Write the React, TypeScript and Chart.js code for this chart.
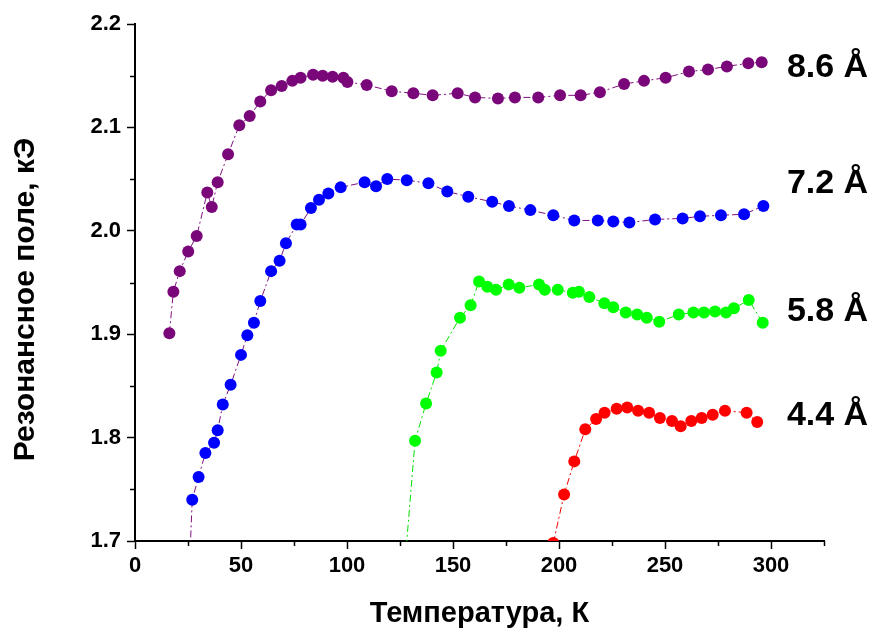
import React, { useEffect, useRef } from 'react';
import { Chart, registerables } from 'chart.js';

Chart.register(...registerables);

// 8.6 Å
const temp86 = [16.2, 18.1, 21.1, 25.1, 29.1, 34.1, 36.2, 39.0, 43.9, 49.2, 54.1, 59.1, 64.2, 69.2, 74.2, 78.1, 84.0, 88.5, 93.2, 98.3, 100.2, 109.3, 121.1, 131.3, 140.4, 152.2, 160.4, 171.2, 179.2, 190.2, 200.5, 210.2, 219.3, 230.7, 240.1, 250.3, 261.3, 270.3, 279.2, 289.3, 295.6];
const field86 = [1.901, 1.941, 1.961, 1.980, 1.995, 2.037, 2.023, 2.047, 2.074, 2.102, 2.111, 2.125, 2.136, 2.140, 2.145, 2.148, 2.151, 2.150, 2.149, 2.148, 2.144, 2.141, 2.135, 2.133, 2.131, 2.133, 2.129, 2.128, 2.129, 2.129, 2.131, 2.131, 2.134, 2.142, 2.145, 2.148, 2.154, 2.156, 2.159, 2.162, 2.163];

// 7.2 Å
const temp72 = [25.4, 27.0, 30.0, 33.2, 37.3, 39.0, 41.4, 45.1, 50.0, 53.0, 56.1, 59.1, 64.2, 68.2, 71.2, 76.3, 78.1, 83.0, 86.8, 91.2, 97.0, 108.3, 113.7, 119.0, 128.2, 138.4, 147.3, 157.2, 168.5, 176.4, 186.5, 197.3, 207.2, 218.3, 225.6, 233.2, 245.3, 258.3, 266.5, 276.4, 287.3, 296.4];
const field72 = [1.66, 1.740, 1.762, 1.785, 1.795, 1.807, 1.832, 1.851, 1.880, 1.899, 1.911, 1.932, 1.961, 1.971, 1.988, 2.006, 2.006, 2.022, 2.030, 2.036, 2.042, 2.047, 2.043, 2.050, 2.049, 2.046, 2.038, 2.033, 2.028, 2.024, 2.020, 2.015, 2.010, 2.010, 2.009, 2.008, 2.011, 2.012, 2.014, 2.015, 2.016, 2.024];

// 5.8 Å
const temp58 = [127.4, 132.1, 137.3, 142.3, 144.2, 153.3, 158.3, 162.3, 166.2, 170.3, 176.3, 181.3, 190.6, 193.3, 199.4, 206.5, 209.4, 214.3, 221.4, 225.6, 231.5, 236.9, 241.4, 247.3, 256.5, 263.4, 268.4, 273.6, 278.8, 282.5, 289.5, 296.1];
const field58 = [1.68, 1.797, 1.833, 1.863, 1.884, 1.916, 1.928, 1.951, 1.946, 1.943, 1.948, 1.945, 1.948, 1.943, 1.943, 1.940, 1.941, 1.936, 1.930, 1.926, 1.921, 1.919, 1.916, 1.912, 1.919, 1.921, 1.921, 1.922, 1.921, 1.925, 1.933, 1.911];

// 4.4 Å
const temp44 = [197.3, 202.4, 207.2, 212.4, 217.5, 221.5, 227.2, 232.2, 237.3, 242.5, 247.6, 253.3, 257.4, 262.4, 267.3, 272.5, 278.3, 288.5, 293.5];
const field44 = [1.698, 1.745, 1.777, 1.808, 1.818, 1.824, 1.828, 1.829, 1.826, 1.824, 1.819, 1.816, 1.811, 1.816, 1.819, 1.822, 1.826, 1.824, 1.815];

const seriesNames = ['8.6 Å', '7.2 Å', '5.8 Å', '4.4 Å'];
const seriesLabelField = [2.158, 2.046, 1.922, 1.821];
const seriesLabelTemp = 307.5;

const xTitle = 'Температура, К';
const yTitle = 'Резонансное поле, кЭ';

const xTicks = [0, 50, 100, 150, 200, 250, 300];
const xMinorTicks = [25, 75, 125, 175, 225, 275, 325];
const yTicks = [1.7, 1.8, 1.9, 2.0, 2.1, 2.2];
const yMinorTicks = [1.75, 1.85, 1.95, 2.05, 2.15];

const FONT = '"Liberation Sans", Arial, Helvetica, sans-serif';

const toPoints = (xs: number[], ys: number[]) => xs.map((x, i) => ({ x, y: ys[i] }));

const extrasPlugin = {
  id: 'extras',
  afterDraw(chart: any) {
    const ctx = chart.ctx;
    const xs = chart.scales.x;
    const ys = chart.scales.y;
    const area = chart.chartArea;
    ctx.save();
    ctx.strokeStyle = '#000';
    ctx.lineWidth = 1.5;
    ctx.beginPath();
    xMinorTicks.forEach((v) => {
      const px = Math.round(xs.getPixelForValue(v)) + 0.5;
      ctx.moveTo(px, area.bottom);
      ctx.lineTo(px, area.bottom + 5);
    });
    yMinorTicks.forEach((v) => {
      const py = Math.round(ys.getPixelForValue(v)) + 0.5;
      ctx.moveTo(area.left, py);
      ctx.lineTo(area.left - 5, py);
    });
    ctx.stroke();

    ctx.fillStyle = '#000';
    ctx.font = `bold 34px ${FONT}`;
    ctx.textAlign = 'left';
    ctx.textBaseline = 'middle';
    seriesNames.forEach((name, i) => {
      ctx.fillText(name, xs.getPixelForValue(seriesLabelTemp), ys.getPixelForValue(seriesLabelField[i]));
    });

    // y-axis title, slightly below the axis centre as in the reference
    ctx.font = `bold 30px ${FONT}`;
    ctx.textAlign = 'center';
    ctx.textBaseline = 'middle';
    ctx.translate(26, (area.top + area.bottom) / 2 + 17);
    ctx.rotate(-Math.PI / 2);
    ctx.fillText(yTitle, 0, 0);
    ctx.restore();
  },
};

export default function App() {
  const canvasRef = useRef<HTMLCanvasElement | null>(null);

  useEffect(() => {
    document.body.style.margin = '0';
    const canvas = canvasRef.current;
    if (!canvas) return;
    const common = {
      showLine: true,
      borderWidth: 1,
      borderDash: [7, 3, 2, 3],
      pointRadius: 6,
      pointHoverRadius: 6,
      pointBorderWidth: 0,
      tension: 0,
    };
    const chart = new Chart(canvas, {
      type: 'scatter',
      data: {
        datasets: [
          { ...common, label: seriesNames[0], data: toPoints(temp86, field86), borderColor: '#7f0f7f', backgroundColor: '#7a077a', pointBackgroundColor: '#7a077a' },
          { ...common, label: seriesNames[1], data: toPoints(temp72, field72), borderColor: '#7f0f7f', backgroundColor: '#0000ff', pointBackgroundColor: '#0000ff' },
          { ...common, label: seriesNames[2], data: toPoints(temp58, field58), borderColor: '#00e000', backgroundColor: '#00ff00', pointBackgroundColor: '#00ff00' },
          { ...common, label: seriesNames[3], data: toPoints(temp44, field44), borderColor: '#ee0000', backgroundColor: '#ff0000', pointBackgroundColor: '#ff0000' },
        ],
      },
      options: {
        responsive: false,
        animation: false,
        devicePixelRatio: 1,
        layout: { padding: { left: 0, right: 51, top: 24, bottom: 0 } },
        plugins: { legend: { display: false }, tooltip: { enabled: false } },
        scales: {
          x: {
            type: 'linear',
            min: 0,
            max: 325,
            afterBuildTicks: (scale: any) => {
              scale.ticks = xTicks.map((v) => ({ value: v }));
            },
            afterFit: (scale: any) => {
              scale.height = 87;
            },
            ticks: {
              color: '#000',
              font: { family: FONT, size: 22, weight: 'bold' },
              padding: 4,
              maxRotation: 0,
              callback: (v: any) => String(v),
            },
            grid: { drawOnChartArea: false, drawTicks: true, tickLength: 8, tickColor: '#000', tickWidth: 1.5 },
            border: { display: true, color: '#000', width: 2 },
            title: {
              display: true,
              text: xTitle,
              color: '#000',
              font: { family: FONT, size: 29, weight: 'bold', lineHeight: 1 },
              padding: { top: 0, bottom: 0 },
            },
          },
          y: {
            type: 'linear',
            min: 1.7,
            max: 2.2,
            afterBuildTicks: (scale: any) => {
              scale.ticks = yTicks.map((v) => ({ value: v }));
            },
            afterFit: (scale: any) => {
              scale.width = 135;
            },
            ticks: {
              color: '#000',
              font: { family: FONT, size: 22, weight: 'bold' },
              padding: 6,
              callback: (v: any) => Number(v).toFixed(1),
            },
            grid: { drawOnChartArea: false, drawTicks: true, tickLength: 8, tickColor: '#000', tickWidth: 1.5 },
            border: { display: true, color: '#000', width: 2 },
            title: { display: false },
          },
        },
      },
      plugins: [extrasPlugin],
    } as any);
    return () => chart.destroy();
  }, []);

  return (
    <div style={{ position: 'absolute', left: 0, top: 0, width: 875, height: 628, background: '#fff' }}>
      <canvas ref={canvasRef} width={875} height={628} style={{ width: 875, height: 628, display: 'block' }} />
    </div>
  );
}
